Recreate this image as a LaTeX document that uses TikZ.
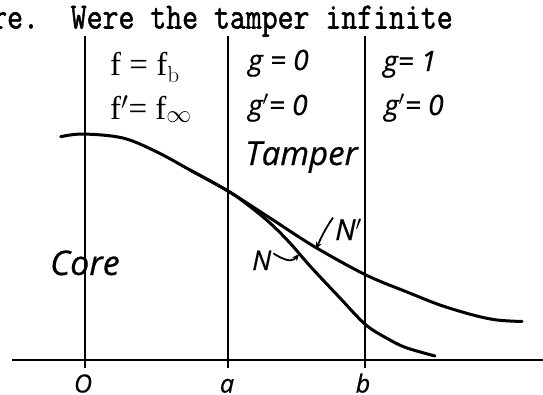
\documentclass[tikz,border=0pt]{standalone}
\usepackage{fontspec}
\usetikzlibrary{arrows.meta}
\newfontfamily\twfont{Latin Modern Mono}[UprightFeatures={FakeBold=1.5}]
\newfontfamily\handfont{Open Sans}[ItalicFeatures={FakeBold=0.6}]
\newfontfamily\fserif{Liberation Serif}
\begin{document}
\begin{tikzpicture}[x=1pt,y=-1pt,
  vline/.style={line width=1.4pt},
  axisline/.style={line width=2pt},
  curveline/.style={line width=3pt, line cap=round, line join=round},
  lbl/.style={inner sep=0pt, anchor=base west},
  hand/.style={lbl, font=\handfont\itshape\fontsize{#1}{#1}\selectfont},
  serif/.style={lbl, font=\fserif\fontsize{#1}{#1}\selectfont},
  ptr/.style={line width=1.8pt, -{Stealth[length=7pt,width=6pt]}}]
\useasboundingbox (0,0) rectangle (543,394);
\clip (0,0) rectangle (543,394);

% typewriter line
\node[lbl, font=\twfont\fontsize{30.9}{31}\selectfont] (tw) at (-9,28.5)
  {\scalebox{1}[1.2]{re.\ \ Were the tamper infinite}};

% vertical lines and axis
\coordinate (o1) at (85,36);  \coordinate (o2) at (85,368);
\coordinate (a1) at (228,36); \coordinate (a2) at (228,368);
\coordinate (b1) at (365,36); \coordinate (b2) at (365,368);
\coordinate (ax1) at (12,360); \coordinate (ax2) at (543,360);
\draw[vline] (o1) -- (o2);
\draw[vline] (a1) -- (a2);
\draw[vline] (b1) -- (b2);
\draw[axisline] (ax1) -- (ax2);

% boundary conditions
\node[serif=33] (fb) at (110,75) {f = f$_\mathrm{b}$};
\node[serif=33] (finf) at (110,119) {f$'$= f$_\infty$};
\node[hand=28] (g0) at (248,70) {g = 0};
\node[hand=28] (gp0) at (248,115) {g$'$= 0};
\node[hand=28] (g1) at (383,71) {g= 1};
\node[hand=28] (gp1) at (384,115) {g$'$= 0};

% region labels
\node[hand=33] (tamper) at (245,165) {Tamper};
\node[hand=34] (core) at (50,275) {Core};

% axis labels
\node[hand=25, anchor=base] (lo) at (83,392.5) {O};
\node[hand=25, anchor=base] (la) at (227,392.5) {a};
\node[hand=25, anchor=base] (lb) at (363,392.5) {b};

% curves
\draw[curveline] plot[smooth, tension=0.55] coordinates {(60.7,136.7) (83,134) (123,138) (157,152) (190,170) (228,191) (270,218) (315,247) (366,275) (407,292) (440,305) (473,315) (497,320) (522,321.5)};
\draw[curveline] plot[smooth, tension=0.55] coordinates {(190,170) (228,191) (248,205) (270,223) (290,243) (310,266) (340,298) (366,325) (390,340) (407,348) (435,356)};

% curve labels
\node[hand=27] (N) at (252,270) {N};
\node[hand=29] (Np) at (335,240) {N$'$};
\coordinate (Ntip) at (299,254);
\coordinate (Nptip) at (316,249);
\draw[ptr] (N.east) ++(2,-7) .. controls (290,264) and (294,260) .. (Ntip);
\draw[ptr] (Np.west) ++(-2,-12) .. controls (325,229) and (321,238) .. (Nptip);
\end{tikzpicture}
\end{document}
